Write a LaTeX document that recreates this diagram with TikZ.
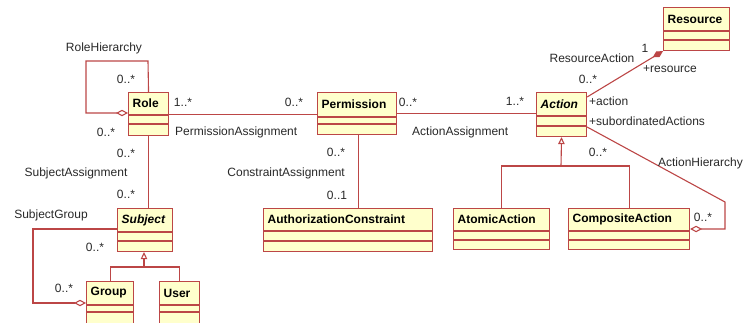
\documentclass[tikz,border=0pt]{standalone}
\usepackage{fontspec}
\setmainfont{Liberation Sans}
\usetikzlibrary{arrows.meta}

\definecolor{umlred}{RGB}{188,70,70}
\definecolor{umlfill}{RGB}{255,255,204}
\definecolor{umltext}{RGB}{40,40,40}

\tikzset{
  classbox/.style={draw=umlred, fill=umlfill, line width=1.1pt, rectangle, inner sep=0pt, anchor=north west},
  compline/.style={draw=umlred, line width=1.1pt},
  classname/.style={font=\fontsize{12}{14}\selectfont\bfseries, text=black, inner sep=0pt, anchor=west},
  abstractname/.style={classname, font=\fontsize{12}{14}\selectfont\bfseries\itshape},
  assoc/.style={draw=umlred, line width=1.1pt},
  label/.style={font=\fontsize{12}{14}\selectfont, text=umltext, inner sep=0pt},
  aggregation/.style={assoc, -{Diamond[open, length=12pt, width=6.5pt, fill=white]}},
  composition/.style={assoc, -{Diamond[length=12pt, width=6.5pt, fill=umlred]}},
  inherits/.style={assoc, -{Triangle[open, length=7pt, width=6.5pt, fill=white]}},
}

% \umlclass{name}{x}{y}{width}{height}{first line}{second line}{style}{text}
\newcommand\umlclass[9]{%
  \node[classbox, minimum width=#4pt, minimum height=#5pt] (#1) at (#2,#3) {};
  \draw[compline] ([yshift=-#6pt]#1.north west) -- ([yshift=-#6pt]#1.north east);
  \draw[compline] ([yshift=-#7pt]#1.north west) -- ([yshift=-#7pt]#1.north east);
  \node[#8] at ([xshift=4.5pt, yshift={-0.5*#6pt}]#1.north west) {#9};
}

\begin{document}
\begin{tikzpicture}[x=1pt, y=-1pt]
  \useasboundingbox (0,0) rectangle (745,322);
  \clip (0,0) rectangle (745,322);

  % classes
  \umlclass{resource}{663}{7}{66}{43}{24}{33}{classname}{Resource}
  \umlclass{role}{128}{92}{40}{43}{23}{32}{classname}{Role}
  \umlclass{permission}{317}{92}{79}{42}{25}{32}{classname}{Permission}
  \umlclass{action}{536}{92}{50}{44}{24}{34}{abstractname}{Action}
  \umlclass{authc}{263}{208}{169}{43}{23}{33}{classname}{AuthorizationConstraint}
  \umlclass{atomic}{453}{208}{96}{41}{23}{32}{classname}{AtomicAction}
  \umlclass{composite}{568}{208}{121}{41}{23}{32}{classname}{CompositeAction}
  \umlclass{subject}{117}{208}{55}{43}{24}{33}{abstractname}{Subject}
  \umlclass{group}{86}{281}{47}{50}{24}{31}{classname}{Group}
  \umlclass{user}{159}{281}{40}{50}{24}{31}{classname}{User}

  % helper corners of the routed connectors
  \coordinate (rhTop) at (148,61);
  \coordinate (rhLeft) at (86,61);
  \coordinate (rhBottom) at (86,113);
  \coordinate (sgLeft) at (33,229);
  \coordinate (sgBottom) at (33,303);
  \coordinate (ahCorner) at (725,202);
  \coordinate (ahDown) at (725,229);
  \coordinate (actionGen) at (561,166);
  \coordinate (subjectGen) at (144,267);

  % associations
  \draw[assoc] (role.east) -- (role.east -| permission.west);
  \draw[assoc] (permission.east) -- (permission.east -| action.west);
  \draw[assoc] (role.south) -- (role.south |- subject.north);
  \draw[assoc] ([xshift=1.5pt]permission.south) -- ([xshift=1.5pt]permission.south |- authc.north);
  \draw[aggregation] (role.north) -- (rhTop) -- (rhLeft) -- (rhBottom) -- (rhBottom -| role.west);
  \draw[composition] ([yshift=-5pt]action.north east) -- (resource.south west);
  \draw[aggregation] ([yshift=-35pt]action.north east) -- (ahCorner) -- (ahDown) -- (ahDown -| composite.east);
  \draw[aggregation] ([yshift=-21pt]subject.north west) -- ([yshift=-21pt]subject.north west -| sgLeft)
      -- (sgBottom) -- (sgBottom -| group.west);

  % generalizations
  \draw[assoc] (atomic.north) |- (actionGen) -| (composite.north);
  \draw[inherits] (actionGen) -- (action.south);
  \draw[assoc] (group.north) |- (subjectGen) -| (user.north);
  \draw[inherits] (subjectGen) -- (subjectGen |- subject.south);

  % association labels and multiplicities
  \node[label] at (104,48) {RoleHierarchy};
  \node[label] at (126,79) {0..*};
  \node[label] at (183,102) {1..*};
  \node[label] at (106,132) {0..*};
  \node[label, anchor=west] at (175,132) {PermissionAssignment};
  \node[label] at (126,153) {0..*};
  \node[label] at (76,173) {SubjectAssignment};
  \node[label] at (126,194) {0..*};
  \node[label] at (51,215) {SubjectGroup};
  \node[label] at (95,247) {0..*};
  \node[label] at (64,288) {0..*};
  \node[label] at (294,102) {0..*};
  \node[label] at (408,102) {0..*};
  \node[label, anchor=west] at (412,132) {ActionAssignment};
  \node[label] at (336,152) {0..*};
  \node[label, anchor=east] at (345,173) {ConstraintAssignment};
  \node[label] at (337,195) {0..1};
  \node[label] at (515,101) {1..*};
  \node[label] at (592,58) {ResourceAction};
  \node[label] at (645,48) {1};
  \node[label] at (670,69) {+resource};
  \node[label] at (588,79) {0..*};
  \node[label, anchor=west] at (589,101) {+action};
  \node[label, anchor=west] at (589,121) {+subordinatedActions};
  \node[label] at (598,152) {0..*};
  \node[label, anchor=east] at (743,163) {ActionHierarchy};
  \node[label] at (703,217) {0..*};
\end{tikzpicture}
\end{document}
